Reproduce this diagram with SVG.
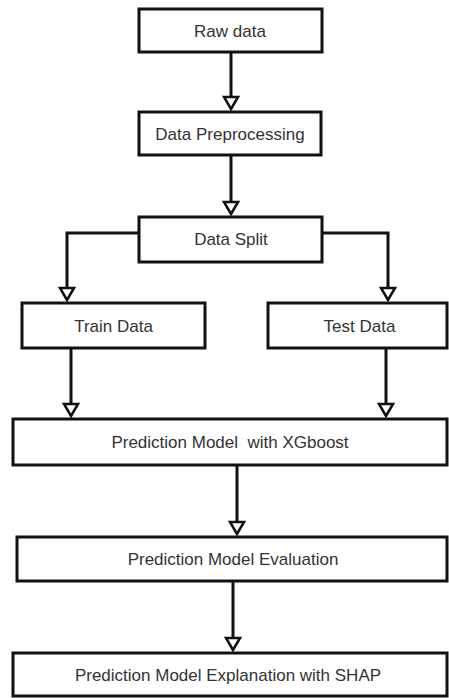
<svg xmlns="http://www.w3.org/2000/svg" width="449" height="698" viewBox="0 0 449 698">
<defs>
<style>
.box{fill:#fff;stroke:#111;stroke-width:3}
.lbl{font-family:"Liberation Sans",Arial,sans-serif;font-size:17px;fill:#333;text-anchor:middle;white-space:pre}
.edge{fill:none;stroke:#111;stroke-width:3;marker-end:url(#arr)}
</style>
<marker id="arr" markerUnits="userSpaceOnUse" markerWidth="20" markerHeight="20" viewBox="-2 -10 16 20" refX="12" refY="0" orient="auto">
<path d="M0,-7 L12,0 L0,7 Z" fill="#fff" stroke="#111" stroke-width="2.5" stroke-linejoin="miter"/>
</marker>
</defs>
<rect width="449" height="698" fill="#fff"/>
<g id="connectors">
<path class="edge" d="M231,52 V109"/>
<path class="edge" d="M231,155 V214"/>
<path class="edge" d="M139,233 H67 V300"/>
<path class="edge" d="M322,233 H388 V300"/>
<path class="edge" d="M71,348 V416"/>
<path class="edge" d="M386,348 V416"/>
<path class="edge" d="M237,465 V534"/>
<path class="edge" d="M233,581 V650"/>
</g>
<g id="raw"><rect class="box" x="139" y="9" width="183" height="43"/><text class="lbl" x="230" y="36.5">Raw data</text></g>
<g id="preproc"><rect class="box" x="139" y="112" width="182" height="43"/><text class="lbl" x="230" y="139.5">Data Preprocessing</text></g>
<g id="split"><rect class="box" x="139" y="217" width="183" height="45"/><text class="lbl" x="231" y="245">Data Split</text></g>
<g id="train"><rect class="box" x="22" y="303" width="183" height="45"/><text class="lbl" x="113.5" y="331.5">Train Data</text></g>
<g id="test"><rect class="box" x="268" y="303" width="179" height="45"/><text class="lbl" x="359.5" y="331.5">Test Data</text></g>
<g id="model"><rect class="box" x="13" y="419" width="434" height="46"/><text class="lbl" x="230" y="448" xml:space="preserve">Prediction Model  with XGboost</text></g>
<g id="eval"><rect class="box" x="17" y="537" width="430" height="44"/><text class="lbl" x="233" y="565">Prediction Model Evaluation</text></g>
<g id="shap"><rect class="box" x="13" y="653" width="434" height="43"/><text class="lbl" x="228" y="680.5">Prediction Model Explanation with SHAP</text></g>
</svg>
